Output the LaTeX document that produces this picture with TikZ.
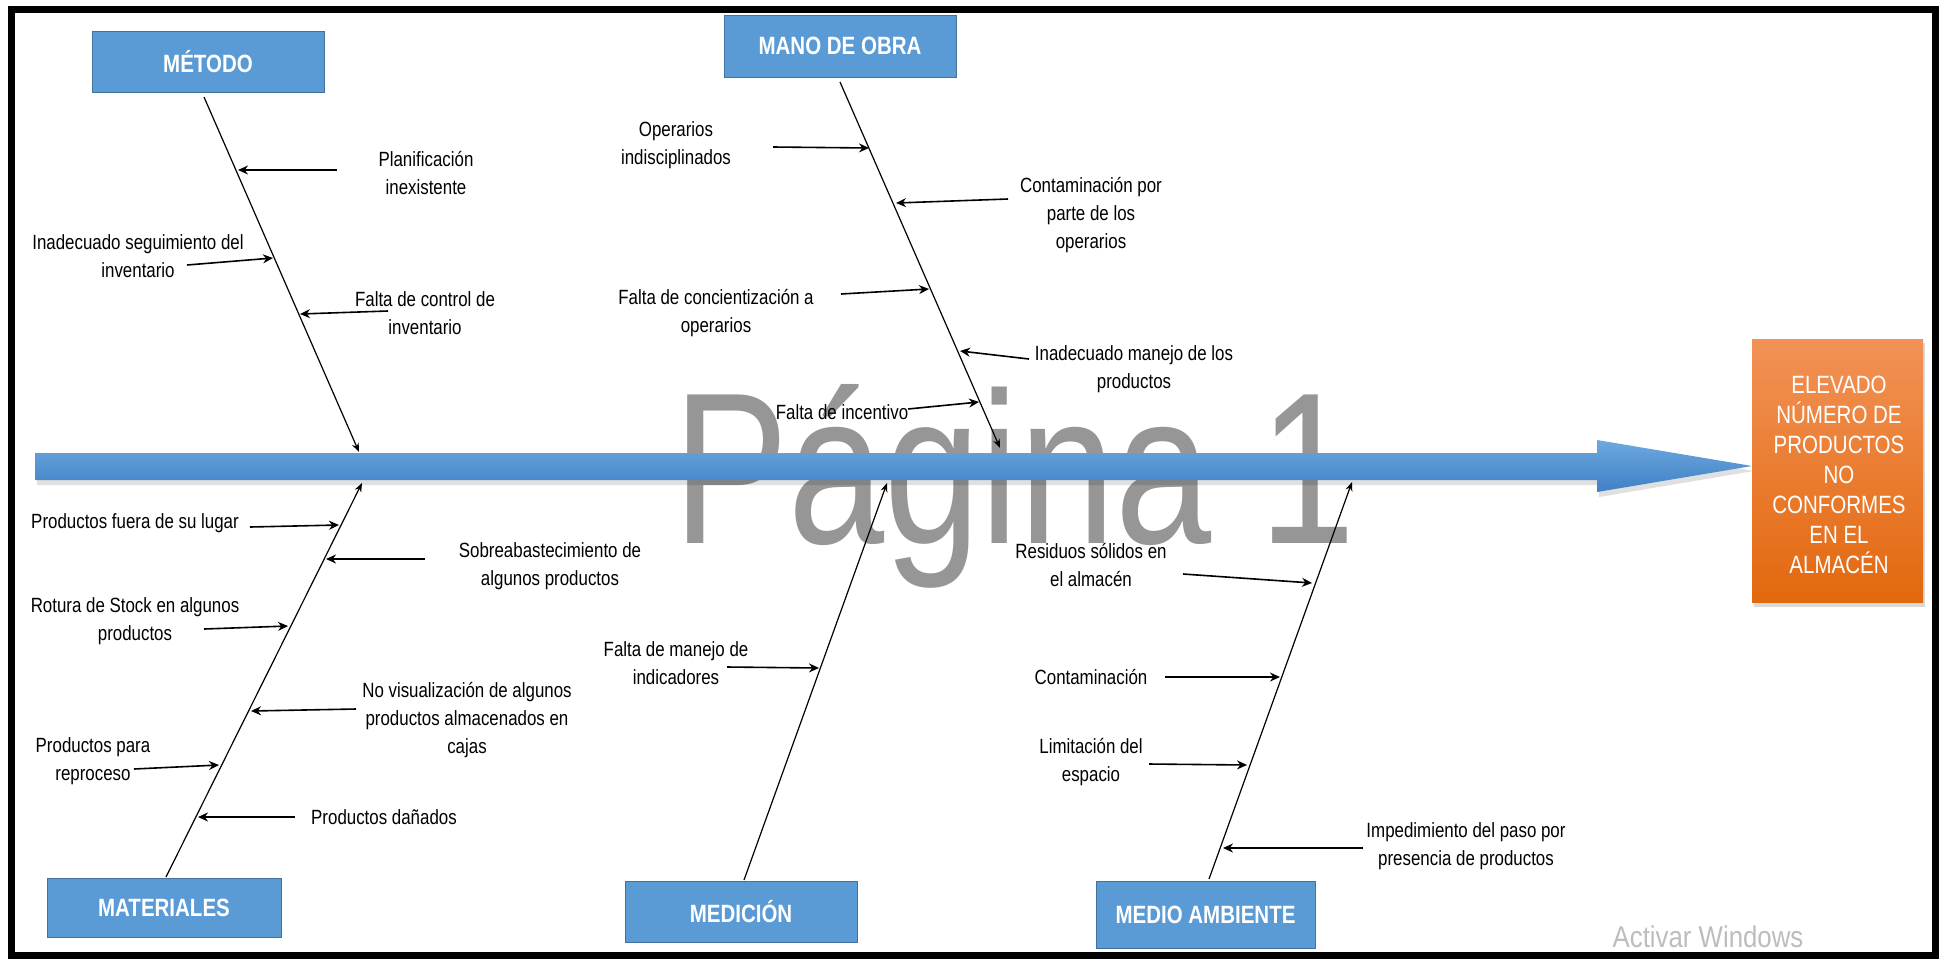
\documentclass[tikz,border=0pt]{standalone}
\usepackage{fontspec}
\setmainfont{Liberation Sans}[FakeStretch=0.82]
\newfontfamily\wmfont{Liberation Sans}[FakeStretch=0.8]
\newfontfamily\winfont{Liberation Sans}[FakeStretch=0.86]
\usetikzlibrary{arrows.meta}
\definecolor{boxblue}{HTML}{5B9BD5}
\definecolor{boxedge}{HTML}{41719C}
\definecolor{spinetop}{HTML}{6EA9E0}
\definecolor{spinebot}{HTML}{3F80C4}
\definecolor{orangetop}{HTML}{F29256}
\definecolor{orangebot}{HTML}{E2680E}
\definecolor{wmgray}{HTML}{969696}
\definecolor{wingray}{HTML}{BDBDBD}
\begin{document}
\begin{tikzpicture}[x=0.5pt,y=-0.5pt,
  catbox/.style={draw=boxedge,line width=0.5pt,fill=boxblue,text=white,
    font=\bfseries\fontsize{12.5}{15}\selectfont,inner sep=0pt},
  lbl/.style={align=center,font=\fontsize{10.3}{14}\selectfont,inner sep=0pt},
  bone/.style={line width=0.6pt,-{Stealth[length=4.5pt,width=3.5pt]}},
  branch/.style={line width=0.8pt,-{Stealth[length=5pt,width=4.5pt]}}]
% canvas
\fill[white] (0,0) rectangle (1941,959);
\useasboundingbox (0,0) rectangle (1941,959);
% watermark
\node[anchor=base west,inner sep=0pt,text=wmgray,font=\wmfont\fontsize{108}{110}\selectfont] (wm) at (673,543) {Página 1};
% frame
\draw[line width=3.5pt] (11.5,9.5) rectangle (1935,955.5);
% spine
\fill[black,opacity=0.12] (37,458) -- (1599,458) -- (1599,445) -- (1754,471) -- (1599,497) -- (1599,485) -- (37,485) -- cycle;
\path[top color=spinetop,bottom color=spinebot] (35,453) -- (1597,453) -- (1597,440) -- (1752,466) -- (1597,492) -- (1597,480) -- (35,480) -- cycle;
% category boxes
\node[catbox,minimum width=116pt,minimum height=30.5pt] (metodo) at (208,61.5) {MÉTODO};
\node[catbox,minimum width=116pt,minimum height=31pt] (manoobra) at (840,46) {MANO DE OBRA};
\node[catbox,minimum width=117pt,minimum height=29.5pt] (materiales) at (164,907.5) {MATERIALES};
\node[catbox,minimum width=116pt,minimum height=30.5pt] (medicion) at (741,911.5) {MEDICIÓN};
\node[catbox,minimum width=109.5pt,minimum height=33.5pt] (medioamb) at (1205.5,914.5) {MEDIO AMBIENTE};
% effect
\fill[black,opacity=0.15] (1754,343) rectangle (1925,607);
\node[top color=orangetop,bottom color=orangebot,minimum width=85.5pt,minimum height=131.5pt,inner sep=0pt] (efecto) at (1837.5,470.5) {};
\node[text=white,align=center,font=\fontsize{12.5}{15}\selectfont,inner sep=0pt] (efectotxt) at (1839,475)
  {ELEVADO\\NÚMERO DE\\PRODUCTOS\\NO\\CONFORMES\\EN EL\\ALMACÉN};
% bones
\coordinate (b1s) at (204,97);   \coordinate (b1e) at (359,452);
\coordinate (b2s) at (840,82);   \coordinate (b2e) at (1000,448);
\coordinate (b3s) at (166,877);  \coordinate (b3e) at (362,483);
\coordinate (b4s) at (744,880);  \coordinate (b4e) at (887,483);
\coordinate (b5s) at (1209,879); \coordinate (b5e) at (1352,482);
\draw[bone] (b1s) -- (b1e);
\draw[bone] (b2s) -- (b2e);
\draw[bone] (b3s) -- (b3e);
\draw[bone] (b4s) -- (b4e);
\draw[bone] (b5s) -- (b5e);
% labels
\node[lbl] (plan) at (426,173) {Planificación\\inexistente};
\node[lbl] (inseg) at (138,256.5) {Inadecuado seguimiento del\\inventario};
\node[lbl] (fcont) at (425,313.5) {Falta de control de\\inventario};
\node[lbl] (oper) at (676,145.5) {Operarios\\indisciplinados};
\node[lbl] (contop) at (1091,215) {Contaminación por\\parte de los\\operarios};
\node[lbl] (fconc) at (716,313.5) {Falta de concientización a\\operarios};
\node[lbl] (inman) at (1134,369.5) {Inadecuado manejo de los\\productos};
\node[lbl] (finc) at (842,412) {Falta de incentivo};
\node[lbl] (pfuera) at (135,523) {Productos fuera de su lugar};
\node[lbl] (sobre) at (550,566) {Sobreabastecimiento de\\algunos productos};
\node[lbl] (rotura) at (135,621.5) {Rotura de Stock en algunos\\productos};
\node[lbl] (novis) at (467,720) {No visualización de algunos\\productos almacenados en\\cajas};
\node[lbl] (ppara) at (93,761.5) {Productos para\\reproceso};
\node[lbl] (pdan) at (384,817) {Productos dañados};
\node[lbl] (fman) at (676,663.5) {Falta de manejo de\\indicadores};
\node[lbl] (resid) at (1091,565.5) {Residuos sólidos en\\el almacén};
\node[lbl] (contam) at (1091,677) {Contaminación};
\node[lbl] (limit) at (1091,762) {Limitación del\\espacio};
\node[lbl] (imped) at (1466,846) {Impedimiento del paso por\\presencia de productos};
% branch arrows
\coordinate (a1s) at (337,170);  \coordinate (a1e) at (238,170);
\coordinate (a2s) at (187,265);  \coordinate (a2e) at (273,258);
\coordinate (a3s) at (388,311);  \coordinate (a3e) at (300,314);
\coordinate (a4s) at (773,147);  \coordinate (a4e) at (869,148);
\coordinate (a5s) at (1008,199); \coordinate (a5e) at (896,203);
\coordinate (a6s) at (841,294);  \coordinate (a6e) at (929,289);
\coordinate (a7s) at (1029,359); \coordinate (a7e) at (960,351);
\coordinate (a8s) at (908,409);  \coordinate (a8e) at (979,402);
\coordinate (a9s) at (250,527);  \coordinate (a9e) at (339,525);
\coordinate (a10s) at (425,559); \coordinate (a10e) at (326,559);
\coordinate (a11s) at (204,629); \coordinate (a11e) at (288,626);
\coordinate (a12s) at (356,709); \coordinate (a12e) at (251,711);
\coordinate (a13s) at (134,769); \coordinate (a13e) at (219,765);
\coordinate (a14s) at (295,817); \coordinate (a14e) at (198,817);
\coordinate (a15s) at (727,667); \coordinate (a15e) at (819,668);
\coordinate (a16s) at (1183,574); \coordinate (a16e) at (1312,583);
\coordinate (a17s) at (1165,677); \coordinate (a17e) at (1280,677);
\coordinate (a18s) at (1149,764); \coordinate (a18e) at (1247,765);
\coordinate (a19s) at (1363,848); \coordinate (a19e) at (1223,848);
\foreach \i in {1,...,19} {\draw[branch] (a\i s) -- (a\i e);}
% system watermark
\node[anchor=base,inner sep=0pt,text=wingray,font=\winfont\fontsize{15}{18}\selectfont] (win) at (1708,947) {Activar Windows};
\end{tikzpicture}
\end{document}
